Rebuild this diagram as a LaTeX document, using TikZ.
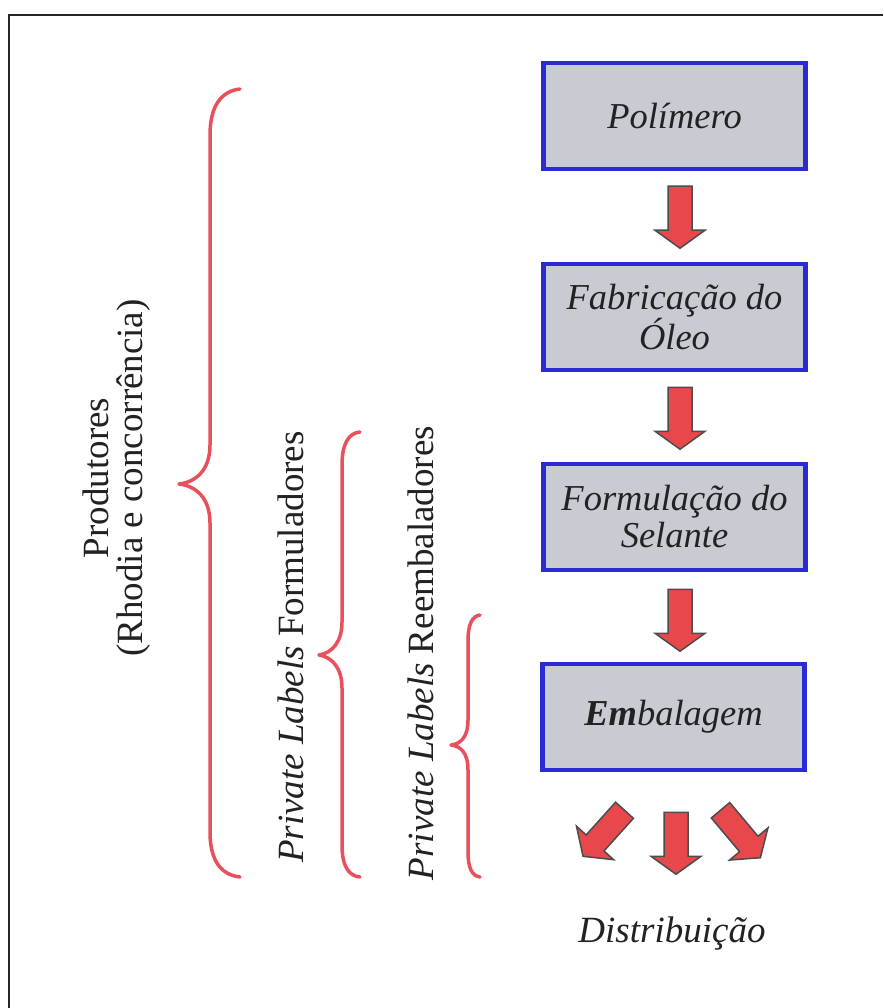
\documentclass[tikz,border=0pt]{standalone}
\usepackage{fontspec}
\setmainfont{Liberation Serif}
\usetikzlibrary{calc}
\definecolor{boxblue}{HTML}{2B2BD6}
\definecolor{boxgray}{HTML}{C9CBD2}
\definecolor{arrred}{HTML}{E8484B}
\definecolor{bracered}{HTML}{E8505C}
\definecolor{txt}{HTML}{222222}
\tikzset{
  stepbox/.style={draw=boxblue, line width=4.5pt, fill=boxgray, minimum width=262pt, minimum height=106pt,
    inner sep=0pt, align=center, text=txt, font=\fontsize{36.5}{37}\selectfont\itshape},
  vlabel/.style={rotate=90, align=center, text=txt, font=\fontsize{37}{34}\selectfont, inner sep=0pt},
  bracestyle/.style={draw=bracered, line width=3.5pt, line cap=round, line join=round},
  arrfill/.style={fill=arrred, draw=black!70, line width=1.5pt, line join=miter},
  downarrow/.pic={\filldraw[arrfill] (-12,0) -- (12,0) -- (12,44) -- (25,44) -- (0,62) -- (-25,44) -- (-12,44) -- cycle;}
}
\begin{document}
\begin{tikzpicture}[x=1pt,y=-1pt]
\useasboundingbox (0,0) rectangle (883,1008);
\fill[white] (0,0) rectangle (883,1008);
% frame (left and top only)
\draw[line width=2pt, black!85] (9,1008) -- (9,15) -- (883,15);

% process boxes
\node[stepbox] (b1) at (674.5,116) {Polímero};
\node[stepbox] (b2) at (674.5,317) {Fabricação do\\Óleo};
\node[stepbox] (b3) at (674.5,517) {Formulação do\\Selante};
\node[stepbox] (b4) at (673.5,717) {\textbf{Em}balagem};

% block arrows between boxes
\pic at ($(b1.south)+(5.5,15)$) {downarrow};
\pic at ($(b2.south)+(5.5,15)$) {downarrow};
\pic at ($(b3.south)+(5.5,17)$) {downarrow};

% distribution arrows
\pic at ($(b4.south)+(2.5,40)$) {downarrow};
\pic[rotate=-42] at ($(b4.south)+(-49,38)$) {downarrow};
\pic[rotate=40] at ($(b4.south)+(47,38)$) {downarrow};

\node[anchor=base, text=txt, font=\fontsize{37}{38}\selectfont\itshape, inner sep=0pt] (dist) at (672,942) {Distribuição};

% braces
\draw[bracestyle] (240,89) .. controls (222,91) and (210,105) .. (210,135) -- (210,445)
  .. controls (210,470) and (196,482) .. (179,484)
  .. controls (196,486) and (210,498) .. (210,523) -- (210,832)
  .. controls (210,862) and (222,875) .. (240,877);
\draw[bracestyle] (360,432) .. controls (348,433) and (342,445) .. (342,465) -- (342,622)
  .. controls (342,642) and (332,653) .. (319,655)
  .. controls (332,657) and (342,668) .. (342,688) -- (342,845)
  .. controls (342,865) and (348,876) .. (360,877);
\draw[bracestyle] (480,615) .. controls (472,616) and (468,625) .. (468,640) -- (468,720)
  .. controls (468,738) and (460,744) .. (451,745)
  .. controls (460,746) and (468,752) .. (468,770) -- (468,852)
  .. controls (468,868) and (472,876) .. (480,877);

% vertical labels
\node[vlabel] (prod) at (117,478) {Produtores\\(Rhodia e concorrência)};
\node[vlabel] (form) at (291,647) {\textit{Private Labels} Formuladores};
\node[vlabel] (reemb) at (421,653) {\textit{Private Labels} Reembaladores};
\end{tikzpicture}
\end{document}
